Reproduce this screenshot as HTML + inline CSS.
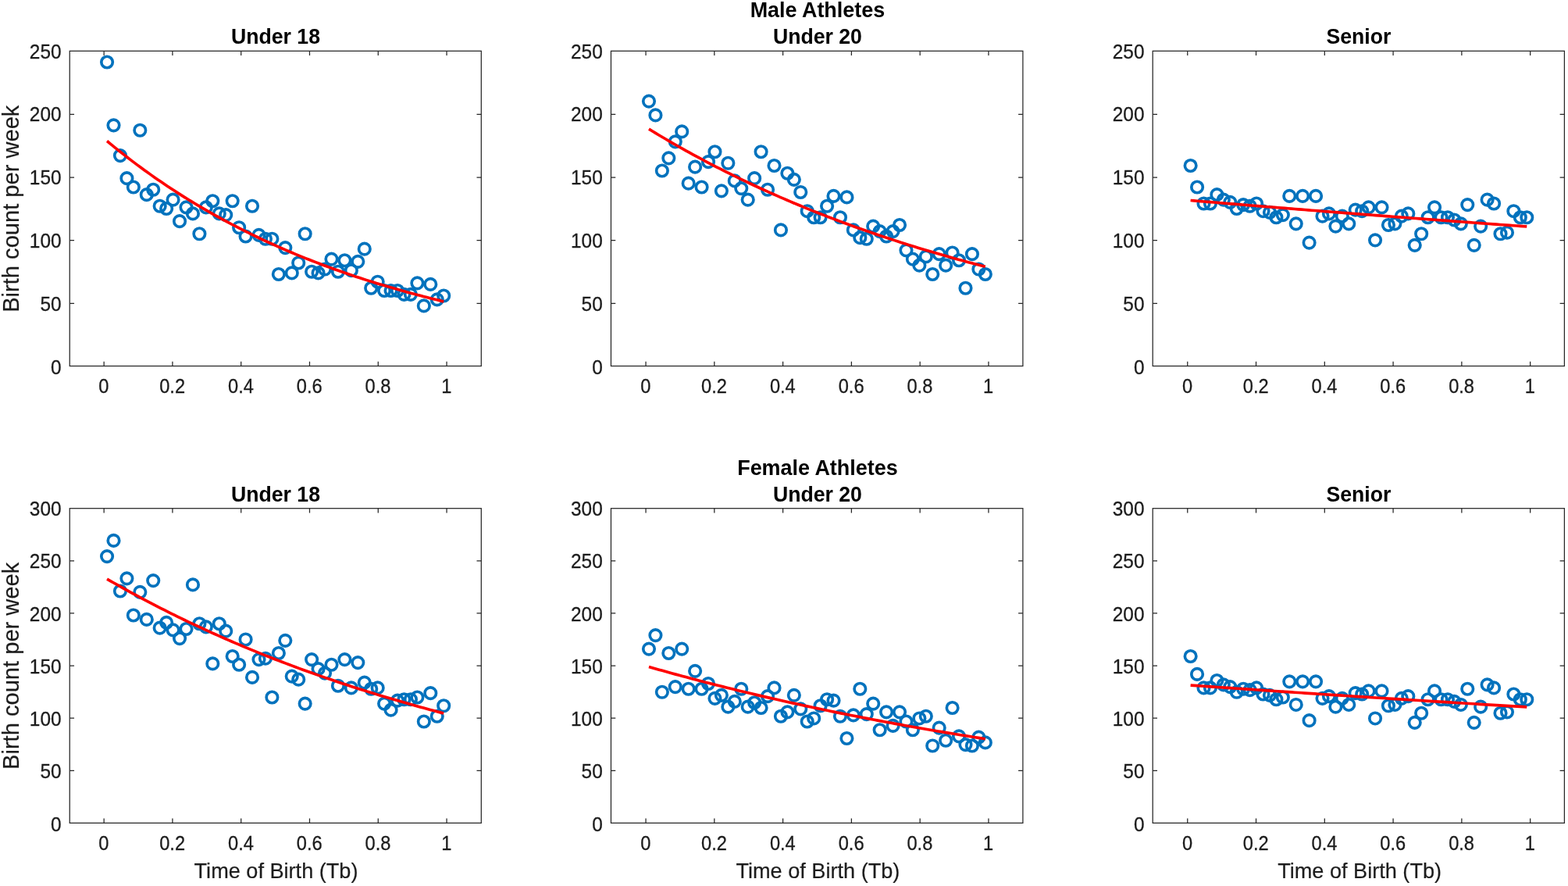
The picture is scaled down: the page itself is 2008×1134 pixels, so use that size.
<!DOCTYPE html>
<html lang="en"><head><meta charset="utf-8"><title>Birth count per week by Time of Birth</title>
<style>html,body{margin:0;padding:0;background:#fff}body{width:2008px;height:1134px;overflow:hidden}svg{display:block}text{font-family:"Liberation Sans",sans-serif}.tk{font-size:24.9px;fill:#1c1c1c;stroke:#1c1c1c;stroke-width:0.3px}.tt{font-size:27.2px;font-weight:bold;fill:#000}.lb{font-size:29.1px;fill:#1c1c1c;stroke:#1c1c1c;stroke-width:0.2px}.xl{font-size:27.4px;fill:#1c1c1c;stroke:#1c1c1c;stroke-width:0.2px}.ax{stroke:#262626;stroke-width:1.25;fill:none}.mk{fill:none;stroke:#0072BD;stroke-width:3.65}.ft{fill:none;stroke:#FF0000;stroke-width:3.65;stroke-linejoin:round}</style></head><body>
<svg width="2008" height="1134" viewBox="0 0 2008 1134">
<rect x="0" y="0" width="2008" height="1134" fill="#ffffff"/>
<g>
<circle class="mk" cx="137.05" cy="79.5" r="7.25"/>
<circle class="mk" cx="145.5" cy="160.3" r="7.25"/>
<circle class="mk" cx="153.95" cy="199.09" r="7.25"/>
<circle class="mk" cx="162.41" cy="228.18" r="7.25"/>
<circle class="mk" cx="170.86" cy="239.49" r="7.25"/>
<circle class="mk" cx="179.32" cy="166.77" r="7.25"/>
<circle class="mk" cx="187.77" cy="249.19" r="7.25"/>
<circle class="mk" cx="196.22" cy="242.73" r="7.25"/>
<circle class="mk" cx="204.68" cy="263.74" r="7.25"/>
<circle class="mk" cx="213.13" cy="266.97" r="7.25"/>
<circle class="mk" cx="221.59" cy="255.65" r="7.25"/>
<circle class="mk" cx="230.04" cy="283.13" r="7.25"/>
<circle class="mk" cx="238.49" cy="265.35" r="7.25"/>
<circle class="mk" cx="246.95" cy="273.43" r="7.25"/>
<circle class="mk" cx="255.4" cy="299.29" r="7.25"/>
<circle class="mk" cx="263.85" cy="265.35" r="7.25"/>
<circle class="mk" cx="272.31" cy="257.27" r="7.25"/>
<circle class="mk" cx="280.76" cy="273.43" r="7.25"/>
<circle class="mk" cx="289.22" cy="275.05" r="7.25"/>
<circle class="mk" cx="297.67" cy="257.27" r="7.25"/>
<circle class="mk" cx="306.12" cy="291.21" r="7.25"/>
<circle class="mk" cx="314.58" cy="302.52" r="7.25"/>
<circle class="mk" cx="323.03" cy="263.74" r="7.25"/>
<circle class="mk" cx="331.49" cy="300.91" r="7.25"/>
<circle class="mk" cx="339.94" cy="305.75" r="7.25"/>
<circle class="mk" cx="348.39" cy="305.75" r="7.25"/>
<circle class="mk" cx="356.85" cy="351" r="7.25"/>
<circle class="mk" cx="365.3" cy="317.07" r="7.25"/>
<circle class="mk" cx="373.75" cy="349.39" r="7.25"/>
<circle class="mk" cx="382.21" cy="336.46" r="7.25"/>
<circle class="mk" cx="390.66" cy="299.29" r="7.25"/>
<circle class="mk" cx="399.12" cy="347.77" r="7.25"/>
<circle class="mk" cx="407.57" cy="349.39" r="7.25"/>
<circle class="mk" cx="416.02" cy="344.54" r="7.25"/>
<circle class="mk" cx="424.48" cy="331.61" r="7.25"/>
<circle class="mk" cx="432.93" cy="347.77" r="7.25"/>
<circle class="mk" cx="441.39" cy="333.23" r="7.25"/>
<circle class="mk" cx="449.84" cy="346.16" r="7.25"/>
<circle class="mk" cx="458.29" cy="334.84" r="7.25"/>
<circle class="mk" cx="466.75" cy="318.68" r="7.25"/>
<circle class="mk" cx="475.2" cy="368.78" r="7.25"/>
<circle class="mk" cx="483.65" cy="360.7" r="7.25"/>
<circle class="mk" cx="492.11" cy="372.01" r="7.25"/>
<circle class="mk" cx="500.56" cy="372.01" r="7.25"/>
<circle class="mk" cx="509.02" cy="372.01" r="7.25"/>
<circle class="mk" cx="517.47" cy="376.86" r="7.25"/>
<circle class="mk" cx="525.92" cy="376.86" r="7.25"/>
<circle class="mk" cx="534.38" cy="362.32" r="7.25"/>
<circle class="mk" cx="542.83" cy="391.41" r="7.25"/>
<circle class="mk" cx="551.29" cy="363.93" r="7.25"/>
<circle class="mk" cx="559.74" cy="383.33" r="7.25"/>
<circle class="mk" cx="568.19" cy="378.48" r="7.25"/>
<polyline class="ft" points="137.05,180.51 141.36,184.08 145.67,187.6 149.98,191.09 154.29,194.52 158.6,197.92 162.92,201.27 167.23,204.59 171.54,207.86 175.85,211.09 180.16,214.28 184.47,217.43 188.78,220.54 193.1,223.62 197.41,226.65 201.72,229.65 206.03,232.61 210.34,235.54 214.65,238.42 218.96,241.28 223.28,244.09 227.59,246.88 231.9,249.62 236.21,252.34 240.52,255.02 244.83,257.67 249.14,260.28 253.46,262.86 257.77,265.41 262.08,267.93 266.39,270.42 270.7,272.88 275.01,275.3 279.33,277.7 283.64,280.07 287.95,282.4 292.26,284.71 296.57,286.99 300.88,289.24 305.19,291.47 309.51,293.66 313.82,295.83 318.13,297.97 322.44,300.09 326.75,302.18 331.06,304.24 335.37,306.28 339.69,308.29 344,310.28 348.31,312.25 352.62,314.19 356.93,316.1 361.24,317.99 365.55,319.86 369.87,321.71 374.18,323.53 378.49,325.33 382.8,327.1 387.11,328.86 391.42,330.59 395.73,332.31 400.05,334 404.36,335.67 408.67,337.32 412.98,338.95 417.29,340.55 421.6,342.14 425.91,343.71 430.23,345.26 434.54,346.79 438.85,348.3 443.16,349.8 447.47,351.27 451.78,352.73 456.1,354.17 460.41,355.59 464.72,356.99 469.03,358.38 473.34,359.74 477.65,361.1 481.96,362.43 486.28,363.75 490.59,365.05 494.9,366.34 499.21,367.61 503.52,368.86 507.83,370.1 512.14,371.32 516.46,372.53 520.77,373.73 525.08,374.9 529.39,376.07 533.7,377.22 538.01,378.35 542.32,379.47 546.64,380.58 550.95,381.68 555.26,382.76 559.57,383.82 563.88,384.88 568.19,385.92"/>
<rect class="ax" x="89.25" y="65.3" width="527.05" height="403.2"/>
<path class="ax" d="M133.15 468.5v-5.8M133.15 65.3v5.8M220.93 468.5v-5.8M220.93 65.3v5.8M308.71 468.5v-5.8M308.71 65.3v5.8M396.49 468.5v-5.8M396.49 65.3v5.8M484.27 468.5v-5.8M484.27 65.3v5.8M572.05 468.5v-5.8M572.05 65.3v5.8M89.25 388.36h5.8M616.3 388.36h-5.8M89.25 307.72h5.8M616.3 307.72h-5.8M89.25 227.08h5.8M616.3 227.08h-5.8M89.25 146.44h5.8M616.3 146.44h-5.8"/>
<text class="tk" text-anchor="middle" transform="translate(132.85 503.4) scale(0.95 1)">0</text>
<text class="tk" text-anchor="middle" transform="translate(220.63 503.4) scale(0.95 1)">0.2</text>
<text class="tk" text-anchor="middle" transform="translate(308.41 503.4) scale(0.95 1)">0.4</text>
<text class="tk" text-anchor="middle" transform="translate(396.19 503.4) scale(0.95 1)">0.6</text>
<text class="tk" text-anchor="middle" transform="translate(483.97 503.4) scale(0.95 1)">0.8</text>
<text class="tk" text-anchor="middle" transform="translate(571.75 503.4) scale(0.95 1)">1</text>
<text class="tk" text-anchor="end" transform="translate(78.55 478.68) scale(0.98 1)">0</text>
<text class="tk" text-anchor="end" transform="translate(78.55 397.88) scale(0.98 1)">50</text>
<text class="tk" text-anchor="end" transform="translate(78.55 317.07) scale(0.98 1)">100</text>
<text class="tk" text-anchor="end" transform="translate(78.55 236.26) scale(0.98 1)">150</text>
<text class="tk" text-anchor="end" transform="translate(78.55 155.46) scale(0.98 1)">200</text>
<text class="tk" text-anchor="end" transform="translate(78.55 74.65) scale(0.98 1)">250</text>
<text class="tt" text-anchor="middle" transform="translate(353 56.4) scale(0.98 1)">Under 18</text>
<text class="lb" text-anchor="middle" transform="translate(24.1 267.2) rotate(-90) scale(1 1)">Birth count per week</text>
</g>
<g>
<circle class="mk" cx="830.97" cy="129.6" r="7.25"/>
<circle class="mk" cx="839.42" cy="147.38" r="7.25"/>
<circle class="mk" cx="847.87" cy="218.48" r="7.25"/>
<circle class="mk" cx="856.32" cy="202.32" r="7.25"/>
<circle class="mk" cx="864.77" cy="181.31" r="7.25"/>
<circle class="mk" cx="873.21" cy="168.39" r="7.25"/>
<circle class="mk" cx="881.66" cy="234.65" r="7.25"/>
<circle class="mk" cx="890.11" cy="213.64" r="7.25"/>
<circle class="mk" cx="898.56" cy="239.49" r="7.25"/>
<circle class="mk" cx="907.01" cy="207.17" r="7.25"/>
<circle class="mk" cx="915.45" cy="194.24" r="7.25"/>
<circle class="mk" cx="923.9" cy="244.34" r="7.25"/>
<circle class="mk" cx="932.35" cy="208.79" r="7.25"/>
<circle class="mk" cx="940.8" cy="231.41" r="7.25"/>
<circle class="mk" cx="949.25" cy="241.11" r="7.25"/>
<circle class="mk" cx="957.7" cy="255.65" r="7.25"/>
<circle class="mk" cx="966.14" cy="228.18" r="7.25"/>
<circle class="mk" cx="974.59" cy="194.24" r="7.25"/>
<circle class="mk" cx="983.04" cy="242.73" r="7.25"/>
<circle class="mk" cx="991.49" cy="212.02" r="7.25"/>
<circle class="mk" cx="999.94" cy="294.44" r="7.25"/>
<circle class="mk" cx="1008.38" cy="221.72" r="7.25"/>
<circle class="mk" cx="1016.83" cy="229.8" r="7.25"/>
<circle class="mk" cx="1025.28" cy="245.96" r="7.25"/>
<circle class="mk" cx="1033.73" cy="270.2" r="7.25"/>
<circle class="mk" cx="1042.18" cy="278.28" r="7.25"/>
<circle class="mk" cx="1050.62" cy="278.28" r="7.25"/>
<circle class="mk" cx="1059.07" cy="263.74" r="7.25"/>
<circle class="mk" cx="1067.52" cy="250.81" r="7.25"/>
<circle class="mk" cx="1075.97" cy="278.28" r="7.25"/>
<circle class="mk" cx="1084.42" cy="252.42" r="7.25"/>
<circle class="mk" cx="1092.86" cy="294.44" r="7.25"/>
<circle class="mk" cx="1101.31" cy="304.14" r="7.25"/>
<circle class="mk" cx="1109.76" cy="305.75" r="7.25"/>
<circle class="mk" cx="1118.21" cy="289.59" r="7.25"/>
<circle class="mk" cx="1126.66" cy="296.06" r="7.25"/>
<circle class="mk" cx="1135.1" cy="302.52" r="7.25"/>
<circle class="mk" cx="1143.55" cy="296.06" r="7.25"/>
<circle class="mk" cx="1152" cy="287.98" r="7.25"/>
<circle class="mk" cx="1160.45" cy="320.3" r="7.25"/>
<circle class="mk" cx="1168.9" cy="331.61" r="7.25"/>
<circle class="mk" cx="1177.35" cy="339.69" r="7.25"/>
<circle class="mk" cx="1185.79" cy="328.38" r="7.25"/>
<circle class="mk" cx="1194.24" cy="351" r="7.25"/>
<circle class="mk" cx="1202.69" cy="325.15" r="7.25"/>
<circle class="mk" cx="1211.14" cy="339.69" r="7.25"/>
<circle class="mk" cx="1219.59" cy="323.53" r="7.25"/>
<circle class="mk" cx="1228.03" cy="333.23" r="7.25"/>
<circle class="mk" cx="1236.48" cy="368.78" r="7.25"/>
<circle class="mk" cx="1244.93" cy="325.15" r="7.25"/>
<circle class="mk" cx="1253.38" cy="344.54" r="7.25"/>
<circle class="mk" cx="1261.83" cy="351" r="7.25"/>
<polyline class="ft" points="830.97,165.16 835.28,167.78 839.59,170.38 843.9,172.96 848.21,175.52 852.52,178.05 856.83,180.56 861.13,183.05 865.44,185.52 869.75,187.97 874.06,190.39 878.37,192.8 882.68,195.18 886.98,197.55 891.29,199.89 895.6,202.21 899.91,204.51 904.22,206.8 908.53,209.06 912.84,211.3 917.14,213.53 921.45,215.73 925.76,217.92 930.07,220.09 934.38,222.24 938.69,224.37 943,226.48 947.3,228.57 951.61,230.65 955.92,232.7 960.23,234.74 964.54,236.77 968.85,238.77 973.16,240.76 977.46,242.73 981.77,244.68 986.08,246.62 990.39,248.54 994.7,250.44 999.01,252.33 1003.31,254.2 1007.62,256.05 1011.93,257.89 1016.24,259.71 1020.55,261.52 1024.86,263.31 1029.17,265.08 1033.47,266.84 1037.78,268.59 1042.09,270.32 1046.4,272.03 1050.71,273.73 1055.02,275.42 1059.33,277.09 1063.63,278.75 1067.94,280.39 1072.25,282.02 1076.56,283.63 1080.87,285.23 1085.18,286.82 1089.49,288.39 1093.79,289.95 1098.1,291.49 1102.41,293.03 1106.72,294.54 1111.03,296.05 1115.34,297.54 1119.64,299.02 1123.95,300.49 1128.26,301.95 1132.57,303.39 1136.88,304.82 1141.19,306.23 1145.5,307.64 1149.8,309.03 1154.11,310.41 1158.42,311.78 1162.73,313.14 1167.04,314.48 1171.35,315.82 1175.66,317.14 1179.96,318.45 1184.27,319.75 1188.58,321.04 1192.89,322.31 1197.2,323.58 1201.51,324.84 1205.82,326.08 1210.12,327.31 1214.43,328.54 1218.74,329.75 1223.05,330.95 1227.36,332.14 1231.67,333.32 1235.97,334.5 1240.28,335.66 1244.59,336.81 1248.9,337.95 1253.21,339.08 1257.52,340.2 1261.83,341.31"/>
<rect class="ax" x="782.45" y="65.3" width="527.45" height="403.2"/>
<path class="ax" d="M827.05 468.5v-5.8M827.05 65.3v5.8M914.83 468.5v-5.8M914.83 65.3v5.8M1002.61 468.5v-5.8M1002.61 65.3v5.8M1090.39 468.5v-5.8M1090.39 65.3v5.8M1178.17 468.5v-5.8M1178.17 65.3v5.8M1265.95 468.5v-5.8M1265.95 65.3v5.8M782.45 388.36h5.8M1309.9 388.36h-5.8M782.45 307.72h5.8M1309.9 307.72h-5.8M782.45 227.08h5.8M1309.9 227.08h-5.8M782.45 146.44h5.8M1309.9 146.44h-5.8"/>
<text class="tk" text-anchor="middle" transform="translate(826.75 503.4) scale(0.95 1)">0</text>
<text class="tk" text-anchor="middle" transform="translate(914.53 503.4) scale(0.95 1)">0.2</text>
<text class="tk" text-anchor="middle" transform="translate(1002.31 503.4) scale(0.95 1)">0.4</text>
<text class="tk" text-anchor="middle" transform="translate(1090.09 503.4) scale(0.95 1)">0.6</text>
<text class="tk" text-anchor="middle" transform="translate(1177.87 503.4) scale(0.95 1)">0.8</text>
<text class="tk" text-anchor="middle" transform="translate(1265.65 503.4) scale(0.95 1)">1</text>
<text class="tk" text-anchor="end" transform="translate(771.75 478.68) scale(0.98 1)">0</text>
<text class="tk" text-anchor="end" transform="translate(771.75 397.88) scale(0.98 1)">50</text>
<text class="tk" text-anchor="end" transform="translate(771.75 317.07) scale(0.98 1)">100</text>
<text class="tk" text-anchor="end" transform="translate(771.75 236.26) scale(0.98 1)">150</text>
<text class="tk" text-anchor="end" transform="translate(771.75 155.46) scale(0.98 1)">200</text>
<text class="tk" text-anchor="end" transform="translate(771.75 74.65) scale(0.98 1)">250</text>
<text class="tt" text-anchor="middle" transform="translate(1046.9 56.4) scale(0.98 1)">Under 20</text>
<text class="tt" text-anchor="middle" transform="translate(1046.9 22.4) scale(0.99 1)">Male Athletes</text>
</g>
<g>
<circle class="mk" cx="1524.62" cy="212.02" r="7.25"/>
<circle class="mk" cx="1533.07" cy="239.49" r="7.25"/>
<circle class="mk" cx="1541.51" cy="260.5" r="7.25"/>
<circle class="mk" cx="1549.95" cy="260.5" r="7.25"/>
<circle class="mk" cx="1558.4" cy="249.19" r="7.25"/>
<circle class="mk" cx="1566.84" cy="255.65" r="7.25"/>
<circle class="mk" cx="1575.29" cy="258.89" r="7.25"/>
<circle class="mk" cx="1583.73" cy="266.97" r="7.25"/>
<circle class="mk" cx="1592.18" cy="262.12" r="7.25"/>
<circle class="mk" cx="1600.62" cy="263.74" r="7.25"/>
<circle class="mk" cx="1609.06" cy="260.5" r="7.25"/>
<circle class="mk" cx="1617.51" cy="270.2" r="7.25"/>
<circle class="mk" cx="1625.95" cy="271.82" r="7.25"/>
<circle class="mk" cx="1634.4" cy="278.28" r="7.25"/>
<circle class="mk" cx="1642.84" cy="275.05" r="7.25"/>
<circle class="mk" cx="1651.29" cy="250.81" r="7.25"/>
<circle class="mk" cx="1659.73" cy="286.36" r="7.25"/>
<circle class="mk" cx="1668.17" cy="250.81" r="7.25"/>
<circle class="mk" cx="1676.62" cy="310.6" r="7.25"/>
<circle class="mk" cx="1685.06" cy="250.81" r="7.25"/>
<circle class="mk" cx="1693.51" cy="276.66" r="7.25"/>
<circle class="mk" cx="1701.95" cy="273.43" r="7.25"/>
<circle class="mk" cx="1710.4" cy="289.59" r="7.25"/>
<circle class="mk" cx="1718.84" cy="276.66" r="7.25"/>
<circle class="mk" cx="1727.28" cy="286.36" r="7.25"/>
<circle class="mk" cx="1735.73" cy="268.58" r="7.25"/>
<circle class="mk" cx="1744.17" cy="270.2" r="7.25"/>
<circle class="mk" cx="1752.62" cy="265.35" r="7.25"/>
<circle class="mk" cx="1761.06" cy="307.37" r="7.25"/>
<circle class="mk" cx="1769.5" cy="265.35" r="7.25"/>
<circle class="mk" cx="1777.95" cy="287.98" r="7.25"/>
<circle class="mk" cx="1786.39" cy="286.36" r="7.25"/>
<circle class="mk" cx="1794.84" cy="276.66" r="7.25"/>
<circle class="mk" cx="1803.28" cy="273.43" r="7.25"/>
<circle class="mk" cx="1811.73" cy="313.83" r="7.25"/>
<circle class="mk" cx="1820.17" cy="299.29" r="7.25"/>
<circle class="mk" cx="1828.61" cy="278.28" r="7.25"/>
<circle class="mk" cx="1837.06" cy="265.35" r="7.25"/>
<circle class="mk" cx="1845.5" cy="278.28" r="7.25"/>
<circle class="mk" cx="1853.95" cy="278.28" r="7.25"/>
<circle class="mk" cx="1862.39" cy="281.51" r="7.25"/>
<circle class="mk" cx="1870.84" cy="286.36" r="7.25"/>
<circle class="mk" cx="1879.28" cy="262.12" r="7.25"/>
<circle class="mk" cx="1887.72" cy="313.83" r="7.25"/>
<circle class="mk" cx="1896.17" cy="289.59" r="7.25"/>
<circle class="mk" cx="1904.61" cy="255.65" r="7.25"/>
<circle class="mk" cx="1913.06" cy="260.5" r="7.25"/>
<circle class="mk" cx="1921.5" cy="299.29" r="7.25"/>
<circle class="mk" cx="1929.95" cy="297.67" r="7.25"/>
<circle class="mk" cx="1938.39" cy="270.2" r="7.25"/>
<circle class="mk" cx="1946.83" cy="278.28" r="7.25"/>
<circle class="mk" cx="1955.28" cy="278.28" r="7.25"/>
<polyline class="ft" points="1524.62,256.5 1528.93,256.86 1533.24,257.22 1537.54,257.59 1541.85,257.95 1546.15,258.31 1550.46,258.67 1554.77,259.03 1559.07,259.39 1563.38,259.75 1567.69,260.1 1571.99,260.46 1576.3,260.82 1580.61,261.17 1584.91,261.53 1589.22,261.89 1593.53,262.24 1597.83,262.59 1602.14,262.95 1606.45,263.3 1610.75,263.65 1615.06,264 1619.37,264.35 1623.67,264.7 1627.98,265.05 1632.29,265.4 1636.59,265.75 1640.9,266.1 1645.21,266.44 1649.51,266.79 1653.82,267.14 1658.13,267.48 1662.43,267.83 1666.74,268.17 1671.05,268.51 1675.35,268.86 1679.66,269.2 1683.96,269.54 1688.27,269.88 1692.58,270.22 1696.88,270.56 1701.19,270.9 1705.5,271.24 1709.8,271.58 1714.11,271.92 1718.42,272.26 1722.72,272.59 1727.03,272.93 1731.34,273.26 1735.64,273.6 1739.95,273.93 1744.26,274.27 1748.56,274.6 1752.87,274.93 1757.18,275.26 1761.48,275.6 1765.79,275.93 1770.1,276.26 1774.4,276.59 1778.71,276.92 1783.02,277.24 1787.32,277.57 1791.63,277.9 1795.94,278.23 1800.24,278.55 1804.55,278.88 1808.85,279.2 1813.16,279.53 1817.47,279.85 1821.77,280.18 1826.08,280.5 1830.39,280.82 1834.69,281.14 1839,281.47 1843.31,281.79 1847.61,282.11 1851.92,282.43 1856.23,282.75 1860.53,283.06 1864.84,283.38 1869.15,283.7 1873.45,284.02 1877.76,284.33 1882.07,284.65 1886.37,284.96 1890.68,285.28 1894.99,285.59 1899.29,285.91 1903.6,286.22 1907.91,286.53 1912.21,286.85 1916.52,287.16 1920.83,287.47 1925.13,287.78 1929.44,288.09 1933.75,288.4 1938.05,288.71 1942.36,289.02 1946.66,289.32 1950.97,289.63 1955.28,289.94"/>
<rect class="ax" x="1476.2" y="65.3" width="527.2" height="403.2"/>
<path class="ax" d="M1520.75 468.5v-5.8M1520.75 65.3v5.8M1608.53 468.5v-5.8M1608.53 65.3v5.8M1696.31 468.5v-5.8M1696.31 65.3v5.8M1784.09 468.5v-5.8M1784.09 65.3v5.8M1871.87 468.5v-5.8M1871.87 65.3v5.8M1959.65 468.5v-5.8M1959.65 65.3v5.8M1476.2 388.36h5.8M2003.4 388.36h-5.8M1476.2 307.72h5.8M2003.4 307.72h-5.8M1476.2 227.08h5.8M2003.4 227.08h-5.8M1476.2 146.44h5.8M2003.4 146.44h-5.8"/>
<text class="tk" text-anchor="middle" transform="translate(1520.45 503.4) scale(0.95 1)">0</text>
<text class="tk" text-anchor="middle" transform="translate(1608.23 503.4) scale(0.95 1)">0.2</text>
<text class="tk" text-anchor="middle" transform="translate(1696.01 503.4) scale(0.95 1)">0.4</text>
<text class="tk" text-anchor="middle" transform="translate(1783.79 503.4) scale(0.95 1)">0.6</text>
<text class="tk" text-anchor="middle" transform="translate(1871.57 503.4) scale(0.95 1)">0.8</text>
<text class="tk" text-anchor="middle" transform="translate(1959.35 503.4) scale(0.95 1)">1</text>
<text class="tk" text-anchor="end" transform="translate(1465.5 478.68) scale(0.98 1)">0</text>
<text class="tk" text-anchor="end" transform="translate(1465.5 397.88) scale(0.98 1)">50</text>
<text class="tk" text-anchor="end" transform="translate(1465.5 317.07) scale(0.98 1)">100</text>
<text class="tk" text-anchor="end" transform="translate(1465.5 236.26) scale(0.98 1)">150</text>
<text class="tk" text-anchor="end" transform="translate(1465.5 155.46) scale(0.98 1)">200</text>
<text class="tk" text-anchor="end" transform="translate(1465.5 74.65) scale(0.98 1)">250</text>
<text class="tt" text-anchor="middle" transform="translate(1739.85 56.4) scale(0.98 1)">Senior</text>
</g>
<g>
<circle class="mk" cx="137.05" cy="712.09" r="7.25"/>
<circle class="mk" cx="145.5" cy="691.89" r="7.25"/>
<circle class="mk" cx="153.95" cy="756.52" r="7.25"/>
<circle class="mk" cx="162.41" cy="740.37" r="7.25"/>
<circle class="mk" cx="170.86" cy="787.49" r="7.25"/>
<circle class="mk" cx="179.32" cy="757.87" r="7.25"/>
<circle class="mk" cx="187.77" cy="792.88" r="7.25"/>
<circle class="mk" cx="196.22" cy="743.06" r="7.25"/>
<circle class="mk" cx="204.68" cy="803.65" r="7.25"/>
<circle class="mk" cx="213.13" cy="796.92" r="7.25"/>
<circle class="mk" cx="221.59" cy="806.34" r="7.25"/>
<circle class="mk" cx="230.04" cy="817.12" r="7.25"/>
<circle class="mk" cx="238.49" cy="805" r="7.25"/>
<circle class="mk" cx="246.95" cy="748.44" r="7.25"/>
<circle class="mk" cx="255.4" cy="798.26" r="7.25"/>
<circle class="mk" cx="263.85" cy="802.3" r="7.25"/>
<circle class="mk" cx="272.31" cy="849.43" r="7.25"/>
<circle class="mk" cx="280.76" cy="798.26" r="7.25"/>
<circle class="mk" cx="289.22" cy="807.69" r="7.25"/>
<circle class="mk" cx="297.67" cy="840.01" r="7.25"/>
<circle class="mk" cx="306.12" cy="850.78" r="7.25"/>
<circle class="mk" cx="314.58" cy="818.46" r="7.25"/>
<circle class="mk" cx="323.03" cy="866.94" r="7.25"/>
<circle class="mk" cx="331.49" cy="844.05" r="7.25"/>
<circle class="mk" cx="339.94" cy="842.7" r="7.25"/>
<circle class="mk" cx="348.39" cy="892.52" r="7.25"/>
<circle class="mk" cx="356.85" cy="835.97" r="7.25"/>
<circle class="mk" cx="365.3" cy="819.81" r="7.25"/>
<circle class="mk" cx="373.75" cy="865.59" r="7.25"/>
<circle class="mk" cx="382.21" cy="869.63" r="7.25"/>
<circle class="mk" cx="390.66" cy="900.6" r="7.25"/>
<circle class="mk" cx="399.12" cy="844.05" r="7.25"/>
<circle class="mk" cx="407.57" cy="856.16" r="7.25"/>
<circle class="mk" cx="416.02" cy="861.55" r="7.25"/>
<circle class="mk" cx="424.48" cy="850.78" r="7.25"/>
<circle class="mk" cx="432.93" cy="877.71" r="7.25"/>
<circle class="mk" cx="441.39" cy="844.05" r="7.25"/>
<circle class="mk" cx="449.84" cy="880.4" r="7.25"/>
<circle class="mk" cx="458.29" cy="848.09" r="7.25"/>
<circle class="mk" cx="466.75" cy="873.67" r="7.25"/>
<circle class="mk" cx="475.2" cy="881.75" r="7.25"/>
<circle class="mk" cx="483.65" cy="880.4" r="7.25"/>
<circle class="mk" cx="492.11" cy="900.6" r="7.25"/>
<circle class="mk" cx="500.56" cy="908.68" r="7.25"/>
<circle class="mk" cx="509.02" cy="896.56" r="7.25"/>
<circle class="mk" cx="517.47" cy="895.21" r="7.25"/>
<circle class="mk" cx="525.92" cy="895.21" r="7.25"/>
<circle class="mk" cx="534.38" cy="892.52" r="7.25"/>
<circle class="mk" cx="542.83" cy="923.49" r="7.25"/>
<circle class="mk" cx="551.29" cy="887.13" r="7.25"/>
<circle class="mk" cx="559.74" cy="916.76" r="7.25"/>
<circle class="mk" cx="568.19" cy="903.29" r="7.25"/>
<polyline class="ft" points="137.05,741.07 141.36,743.55 145.67,746.02 149.98,748.46 154.29,750.89 158.6,753.3 162.92,755.68 167.23,758.05 171.54,760.4 175.85,762.73 180.16,765.05 184.47,767.34 188.78,769.62 193.1,771.87 197.41,774.12 201.72,776.34 206.03,778.54 210.34,780.73 214.65,782.9 218.96,785.05 223.28,787.19 227.59,789.31 231.9,791.41 236.21,793.49 240.52,795.56 244.83,797.61 249.14,799.65 253.46,801.67 257.77,803.67 262.08,805.66 266.39,807.63 270.7,809.59 275.01,811.53 279.33,813.45 283.64,815.36 287.95,817.26 292.26,819.14 296.57,821 300.88,822.85 305.19,824.69 309.51,826.51 313.82,828.32 318.13,830.11 322.44,831.89 326.75,833.65 331.06,835.4 335.37,837.14 339.69,838.86 344,840.57 348.31,842.26 352.62,843.94 356.93,845.61 361.24,847.26 365.55,848.91 369.87,850.53 374.18,852.15 378.49,853.75 382.8,855.34 387.11,856.92 391.42,858.49 395.73,860.04 400.05,861.58 404.36,863.11 408.67,864.62 412.98,866.13 417.29,867.62 421.6,869.1 425.91,870.57 430.23,872.02 434.54,873.47 438.85,874.9 443.16,876.33 447.47,877.74 451.78,879.14 456.1,880.52 460.41,881.9 464.72,883.27 469.03,884.63 473.34,885.97 477.65,887.3 481.96,888.63 486.28,889.94 490.59,891.24 494.9,892.54 499.21,893.82 503.52,895.09 507.83,896.35 512.14,897.61 516.46,898.85 520.77,900.08 525.08,901.3 529.39,902.52 533.7,903.72 538.01,904.91 542.32,906.1 546.64,907.27 550.95,908.44 555.26,909.59 559.57,910.74 563.88,911.88 568.19,913.01"/>
<rect class="ax" x="89.25" y="650.7" width="527.05" height="402.7"/>
<path class="ax" d="M133.15 1053.4v-5.8M133.15 650.7v5.8M220.93 1053.4v-5.8M220.93 650.7v5.8M308.71 1053.4v-5.8M308.71 650.7v5.8M396.49 1053.4v-5.8M396.49 650.7v5.8M484.27 1053.4v-5.8M484.27 650.7v5.8M572.05 1053.4v-5.8M572.05 650.7v5.8M89.25 986.33h5.8M616.3 986.33h-5.8M89.25 919.22h5.8M616.3 919.22h-5.8M89.25 852.1h5.8M616.3 852.1h-5.8M89.25 784.98h5.8M616.3 784.98h-5.8M89.25 717.87h5.8M616.3 717.87h-5.8"/>
<text class="tk" text-anchor="middle" transform="translate(132.85 1088.3) scale(0.95 1)">0</text>
<text class="tk" text-anchor="middle" transform="translate(220.63 1088.3) scale(0.95 1)">0.2</text>
<text class="tk" text-anchor="middle" transform="translate(308.41 1088.3) scale(0.95 1)">0.4</text>
<text class="tk" text-anchor="middle" transform="translate(396.19 1088.3) scale(0.95 1)">0.6</text>
<text class="tk" text-anchor="middle" transform="translate(483.97 1088.3) scale(0.95 1)">0.8</text>
<text class="tk" text-anchor="middle" transform="translate(571.75 1088.3) scale(0.95 1)">1</text>
<text class="tk" text-anchor="end" transform="translate(78.55 1063.8) scale(0.98 1)">0</text>
<text class="tk" text-anchor="end" transform="translate(78.55 996.47) scale(0.98 1)">50</text>
<text class="tk" text-anchor="end" transform="translate(78.55 929.15) scale(0.98 1)">100</text>
<text class="tk" text-anchor="end" transform="translate(78.55 861.82) scale(0.98 1)">150</text>
<text class="tk" text-anchor="end" transform="translate(78.55 794.5) scale(0.98 1)">200</text>
<text class="tk" text-anchor="end" transform="translate(78.55 727.17) scale(0.98 1)">250</text>
<text class="tk" text-anchor="end" transform="translate(78.55 659.85) scale(0.98 1)">300</text>
<text class="tt" text-anchor="middle" transform="translate(353 641.8) scale(0.98 1)">Under 18</text>
<text class="lb" text-anchor="middle" transform="translate(24.1 852.35) rotate(-90) scale(1 1)">Birth count per week</text>
<text class="xl" text-anchor="middle" transform="translate(353.5 1123.9) scale(0.99 1)">Time of Birth (Tb)</text>
</g>
<g>
<circle class="mk" cx="830.97" cy="830.58" r="7.25"/>
<circle class="mk" cx="839.42" cy="813.08" r="7.25"/>
<circle class="mk" cx="847.87" cy="885.79" r="7.25"/>
<circle class="mk" cx="856.32" cy="835.97" r="7.25"/>
<circle class="mk" cx="864.77" cy="879.05" r="7.25"/>
<circle class="mk" cx="873.21" cy="830.58" r="7.25"/>
<circle class="mk" cx="881.66" cy="881.75" r="7.25"/>
<circle class="mk" cx="890.11" cy="858.86" r="7.25"/>
<circle class="mk" cx="898.56" cy="881.75" r="7.25"/>
<circle class="mk" cx="907.01" cy="875.02" r="7.25"/>
<circle class="mk" cx="915.45" cy="893.87" r="7.25"/>
<circle class="mk" cx="923.9" cy="889.83" r="7.25"/>
<circle class="mk" cx="932.35" cy="904.64" r="7.25"/>
<circle class="mk" cx="940.8" cy="897.91" r="7.25"/>
<circle class="mk" cx="949.25" cy="881.75" r="7.25"/>
<circle class="mk" cx="957.7" cy="904.64" r="7.25"/>
<circle class="mk" cx="966.14" cy="899.25" r="7.25"/>
<circle class="mk" cx="974.59" cy="905.98" r="7.25"/>
<circle class="mk" cx="983.04" cy="891.17" r="7.25"/>
<circle class="mk" cx="991.49" cy="880.4" r="7.25"/>
<circle class="mk" cx="999.94" cy="916.76" r="7.25"/>
<circle class="mk" cx="1008.38" cy="911.37" r="7.25"/>
<circle class="mk" cx="1016.83" cy="889.83" r="7.25"/>
<circle class="mk" cx="1025.28" cy="907.33" r="7.25"/>
<circle class="mk" cx="1033.73" cy="923.49" r="7.25"/>
<circle class="mk" cx="1042.18" cy="919.45" r="7.25"/>
<circle class="mk" cx="1050.62" cy="903.29" r="7.25"/>
<circle class="mk" cx="1059.07" cy="895.21" r="7.25"/>
<circle class="mk" cx="1067.52" cy="896.56" r="7.25"/>
<circle class="mk" cx="1075.97" cy="916.76" r="7.25"/>
<circle class="mk" cx="1084.42" cy="945.03" r="7.25"/>
<circle class="mk" cx="1092.86" cy="915.41" r="7.25"/>
<circle class="mk" cx="1101.31" cy="881.75" r="7.25"/>
<circle class="mk" cx="1109.76" cy="914.06" r="7.25"/>
<circle class="mk" cx="1118.21" cy="900.6" r="7.25"/>
<circle class="mk" cx="1126.66" cy="934.26" r="7.25"/>
<circle class="mk" cx="1135.1" cy="911.37" r="7.25"/>
<circle class="mk" cx="1143.55" cy="928.88" r="7.25"/>
<circle class="mk" cx="1152" cy="911.37" r="7.25"/>
<circle class="mk" cx="1160.45" cy="923.49" r="7.25"/>
<circle class="mk" cx="1168.9" cy="934.26" r="7.25"/>
<circle class="mk" cx="1177.35" cy="919.45" r="7.25"/>
<circle class="mk" cx="1185.79" cy="916.76" r="7.25"/>
<circle class="mk" cx="1194.24" cy="954.46" r="7.25"/>
<circle class="mk" cx="1202.69" cy="931.57" r="7.25"/>
<circle class="mk" cx="1211.14" cy="947.73" r="7.25"/>
<circle class="mk" cx="1219.59" cy="905.98" r="7.25"/>
<circle class="mk" cx="1228.03" cy="942.34" r="7.25"/>
<circle class="mk" cx="1236.48" cy="953.11" r="7.25"/>
<circle class="mk" cx="1244.93" cy="954.46" r="7.25"/>
<circle class="mk" cx="1253.38" cy="943.69" r="7.25"/>
<circle class="mk" cx="1261.83" cy="950.42" r="7.25"/>
<polyline class="ft" points="830.97,853.47 835.28,854.71 839.59,855.93 843.9,857.15 848.21,858.35 852.52,859.56 856.83,860.75 861.13,861.94 865.44,863.12 869.75,864.29 874.06,865.45 878.37,866.61 882.68,867.76 886.98,868.9 891.29,870.04 895.6,871.17 899.91,872.29 904.22,873.41 908.53,874.52 912.84,875.62 917.14,876.72 921.45,877.8 925.76,878.89 930.07,879.96 934.38,881.03 938.69,882.09 943,883.15 947.3,884.2 951.61,885.24 955.92,886.28 960.23,887.31 964.54,888.33 968.85,889.35 973.16,890.36 977.46,891.36 981.77,892.36 986.08,893.36 990.39,894.34 994.7,895.32 999.01,896.3 1003.31,897.27 1007.62,898.23 1011.93,899.18 1016.24,900.14 1020.55,901.08 1024.86,902.02 1029.17,902.95 1033.47,903.88 1037.78,904.8 1042.09,905.72 1046.4,906.63 1050.71,907.53 1055.02,908.43 1059.33,909.33 1063.63,910.22 1067.94,911.1 1072.25,911.98 1076.56,912.85 1080.87,913.72 1085.18,914.58 1089.49,915.43 1093.79,916.29 1098.1,917.13 1102.41,917.97 1106.72,918.81 1111.03,919.64 1115.34,920.46 1119.64,921.28 1123.95,922.1 1128.26,922.91 1132.57,923.71 1136.88,924.51 1141.19,925.31 1145.5,926.1 1149.8,926.89 1154.11,927.67 1158.42,928.44 1162.73,929.21 1167.04,929.98 1171.35,930.74 1175.66,931.5 1179.96,932.25 1184.27,933 1188.58,933.74 1192.89,934.48 1197.2,935.21 1201.51,935.94 1205.82,936.67 1210.12,937.39 1214.43,938.11 1218.74,938.82 1223.05,939.53 1227.36,940.23 1231.67,940.93 1235.97,941.62 1240.28,942.31 1244.59,943 1248.9,943.68 1253.21,944.36 1257.52,945.03 1261.83,945.7"/>
<rect class="ax" x="782.45" y="650.7" width="527.45" height="402.7"/>
<path class="ax" d="M827.05 1053.4v-5.8M827.05 650.7v5.8M914.83 1053.4v-5.8M914.83 650.7v5.8M1002.61 1053.4v-5.8M1002.61 650.7v5.8M1090.39 1053.4v-5.8M1090.39 650.7v5.8M1178.17 1053.4v-5.8M1178.17 650.7v5.8M1265.95 1053.4v-5.8M1265.95 650.7v5.8M782.45 986.33h5.8M1309.9 986.33h-5.8M782.45 919.22h5.8M1309.9 919.22h-5.8M782.45 852.1h5.8M1309.9 852.1h-5.8M782.45 784.98h5.8M1309.9 784.98h-5.8M782.45 717.87h5.8M1309.9 717.87h-5.8"/>
<text class="tk" text-anchor="middle" transform="translate(826.75 1088.3) scale(0.95 1)">0</text>
<text class="tk" text-anchor="middle" transform="translate(914.53 1088.3) scale(0.95 1)">0.2</text>
<text class="tk" text-anchor="middle" transform="translate(1002.31 1088.3) scale(0.95 1)">0.4</text>
<text class="tk" text-anchor="middle" transform="translate(1090.09 1088.3) scale(0.95 1)">0.6</text>
<text class="tk" text-anchor="middle" transform="translate(1177.87 1088.3) scale(0.95 1)">0.8</text>
<text class="tk" text-anchor="middle" transform="translate(1265.65 1088.3) scale(0.95 1)">1</text>
<text class="tk" text-anchor="end" transform="translate(771.75 1063.8) scale(0.98 1)">0</text>
<text class="tk" text-anchor="end" transform="translate(771.75 996.47) scale(0.98 1)">50</text>
<text class="tk" text-anchor="end" transform="translate(771.75 929.15) scale(0.98 1)">100</text>
<text class="tk" text-anchor="end" transform="translate(771.75 861.82) scale(0.98 1)">150</text>
<text class="tk" text-anchor="end" transform="translate(771.75 794.5) scale(0.98 1)">200</text>
<text class="tk" text-anchor="end" transform="translate(771.75 727.17) scale(0.98 1)">250</text>
<text class="tk" text-anchor="end" transform="translate(771.75 659.85) scale(0.98 1)">300</text>
<text class="tt" text-anchor="middle" transform="translate(1046.9 641.8) scale(0.98 1)">Under 20</text>
<text class="tt" text-anchor="middle" transform="translate(1046.9 607.8) scale(0.99 1)">Female Athletes</text>
<text class="xl" text-anchor="middle" transform="translate(1047.4 1123.9) scale(0.99 1)">Time of Birth (Tb)</text>
</g>
<g>
<circle class="mk" cx="1524.62" cy="840.01" r="7.25"/>
<circle class="mk" cx="1533.07" cy="862.9" r="7.25"/>
<circle class="mk" cx="1541.51" cy="880.4" r="7.25"/>
<circle class="mk" cx="1549.95" cy="880.4" r="7.25"/>
<circle class="mk" cx="1558.4" cy="870.98" r="7.25"/>
<circle class="mk" cx="1566.84" cy="876.36" r="7.25"/>
<circle class="mk" cx="1575.29" cy="879.05" r="7.25"/>
<circle class="mk" cx="1583.73" cy="885.79" r="7.25"/>
<circle class="mk" cx="1592.18" cy="881.75" r="7.25"/>
<circle class="mk" cx="1600.62" cy="883.09" r="7.25"/>
<circle class="mk" cx="1609.06" cy="880.4" r="7.25"/>
<circle class="mk" cx="1617.51" cy="888.48" r="7.25"/>
<circle class="mk" cx="1625.95" cy="889.83" r="7.25"/>
<circle class="mk" cx="1634.4" cy="895.21" r="7.25"/>
<circle class="mk" cx="1642.84" cy="892.52" r="7.25"/>
<circle class="mk" cx="1651.29" cy="872.32" r="7.25"/>
<circle class="mk" cx="1659.73" cy="901.95" r="7.25"/>
<circle class="mk" cx="1668.17" cy="872.32" r="7.25"/>
<circle class="mk" cx="1676.62" cy="922.14" r="7.25"/>
<circle class="mk" cx="1685.06" cy="872.32" r="7.25"/>
<circle class="mk" cx="1693.51" cy="893.87" r="7.25"/>
<circle class="mk" cx="1701.95" cy="891.17" r="7.25"/>
<circle class="mk" cx="1710.4" cy="904.64" r="7.25"/>
<circle class="mk" cx="1718.84" cy="893.87" r="7.25"/>
<circle class="mk" cx="1727.28" cy="901.95" r="7.25"/>
<circle class="mk" cx="1735.73" cy="887.13" r="7.25"/>
<circle class="mk" cx="1744.17" cy="888.48" r="7.25"/>
<circle class="mk" cx="1752.62" cy="884.44" r="7.25"/>
<circle class="mk" cx="1761.06" cy="919.45" r="7.25"/>
<circle class="mk" cx="1769.5" cy="884.44" r="7.25"/>
<circle class="mk" cx="1777.95" cy="903.29" r="7.25"/>
<circle class="mk" cx="1786.39" cy="901.95" r="7.25"/>
<circle class="mk" cx="1794.84" cy="893.87" r="7.25"/>
<circle class="mk" cx="1803.28" cy="891.17" r="7.25"/>
<circle class="mk" cx="1811.73" cy="924.84" r="7.25"/>
<circle class="mk" cx="1820.17" cy="912.72" r="7.25"/>
<circle class="mk" cx="1828.61" cy="895.21" r="7.25"/>
<circle class="mk" cx="1837.06" cy="884.44" r="7.25"/>
<circle class="mk" cx="1845.5" cy="895.21" r="7.25"/>
<circle class="mk" cx="1853.95" cy="895.21" r="7.25"/>
<circle class="mk" cx="1862.39" cy="897.91" r="7.25"/>
<circle class="mk" cx="1870.84" cy="901.95" r="7.25"/>
<circle class="mk" cx="1879.28" cy="881.75" r="7.25"/>
<circle class="mk" cx="1887.72" cy="924.84" r="7.25"/>
<circle class="mk" cx="1896.17" cy="904.64" r="7.25"/>
<circle class="mk" cx="1904.61" cy="876.36" r="7.25"/>
<circle class="mk" cx="1913.06" cy="880.4" r="7.25"/>
<circle class="mk" cx="1921.5" cy="912.72" r="7.25"/>
<circle class="mk" cx="1929.95" cy="911.37" r="7.25"/>
<circle class="mk" cx="1938.39" cy="888.48" r="7.25"/>
<circle class="mk" cx="1946.83" cy="895.21" r="7.25"/>
<circle class="mk" cx="1955.28" cy="895.21" r="7.25"/>
<polyline class="ft" points="1524.62,877.06 1528.93,877.37 1533.24,877.67 1537.54,877.97 1541.85,878.27 1546.15,878.57 1550.46,878.87 1554.77,879.17 1559.07,879.47 1563.38,879.77 1567.69,880.07 1571.99,880.37 1576.3,880.66 1580.61,880.96 1584.91,881.26 1589.22,881.55 1593.53,881.85 1597.83,882.14 1602.14,882.44 1606.45,882.73 1610.75,883.02 1615.06,883.32 1619.37,883.61 1623.67,883.9 1627.98,884.19 1632.29,884.48 1636.59,884.77 1640.9,885.06 1645.21,885.35 1649.51,885.64 1653.82,885.93 1658.13,886.22 1662.43,886.5 1666.74,886.79 1671.05,887.08 1675.35,887.36 1679.66,887.65 1683.96,887.93 1688.27,888.22 1692.58,888.5 1696.88,888.78 1701.19,889.07 1705.5,889.35 1709.8,889.63 1714.11,889.91 1718.42,890.19 1722.72,890.47 1727.03,890.75 1731.34,891.03 1735.64,891.31 1739.95,891.59 1744.26,891.87 1748.56,892.15 1752.87,892.42 1757.18,892.7 1761.48,892.98 1765.79,893.25 1770.1,893.53 1774.4,893.8 1778.71,894.08 1783.02,894.35 1787.32,894.62 1791.63,894.9 1795.94,895.17 1800.24,895.44 1804.55,895.71 1808.85,895.98 1813.16,896.25 1817.47,896.52 1821.77,896.79 1826.08,897.06 1830.39,897.33 1834.69,897.6 1839,897.87 1843.31,898.13 1847.61,898.4 1851.92,898.67 1856.23,898.93 1860.53,899.2 1864.84,899.46 1869.15,899.73 1873.45,899.99 1877.76,900.26 1882.07,900.52 1886.37,900.78 1890.68,901.04 1894.99,901.31 1899.29,901.57 1903.6,901.83 1907.91,902.09 1912.21,902.35 1916.52,902.61 1920.83,902.87 1925.13,903.13 1929.44,903.39 1933.75,903.64 1938.05,903.9 1942.36,904.16 1946.66,904.41 1950.97,904.67 1955.28,904.93"/>
<rect class="ax" x="1476.2" y="650.7" width="527.2" height="402.7"/>
<path class="ax" d="M1520.75 1053.4v-5.8M1520.75 650.7v5.8M1608.53 1053.4v-5.8M1608.53 650.7v5.8M1696.31 1053.4v-5.8M1696.31 650.7v5.8M1784.09 1053.4v-5.8M1784.09 650.7v5.8M1871.87 1053.4v-5.8M1871.87 650.7v5.8M1959.65 1053.4v-5.8M1959.65 650.7v5.8M1476.2 986.33h5.8M2003.4 986.33h-5.8M1476.2 919.22h5.8M2003.4 919.22h-5.8M1476.2 852.1h5.8M2003.4 852.1h-5.8M1476.2 784.98h5.8M2003.4 784.98h-5.8M1476.2 717.87h5.8M2003.4 717.87h-5.8"/>
<text class="tk" text-anchor="middle" transform="translate(1520.45 1088.3) scale(0.95 1)">0</text>
<text class="tk" text-anchor="middle" transform="translate(1608.23 1088.3) scale(0.95 1)">0.2</text>
<text class="tk" text-anchor="middle" transform="translate(1696.01 1088.3) scale(0.95 1)">0.4</text>
<text class="tk" text-anchor="middle" transform="translate(1783.79 1088.3) scale(0.95 1)">0.6</text>
<text class="tk" text-anchor="middle" transform="translate(1871.57 1088.3) scale(0.95 1)">0.8</text>
<text class="tk" text-anchor="middle" transform="translate(1959.35 1088.3) scale(0.95 1)">1</text>
<text class="tk" text-anchor="end" transform="translate(1465.5 1063.8) scale(0.98 1)">0</text>
<text class="tk" text-anchor="end" transform="translate(1465.5 996.47) scale(0.98 1)">50</text>
<text class="tk" text-anchor="end" transform="translate(1465.5 929.15) scale(0.98 1)">100</text>
<text class="tk" text-anchor="end" transform="translate(1465.5 861.82) scale(0.98 1)">150</text>
<text class="tk" text-anchor="end" transform="translate(1465.5 794.5) scale(0.98 1)">200</text>
<text class="tk" text-anchor="end" transform="translate(1465.5 727.17) scale(0.98 1)">250</text>
<text class="tk" text-anchor="end" transform="translate(1465.5 659.85) scale(0.98 1)">300</text>
<text class="tt" text-anchor="middle" transform="translate(1739.85 641.8) scale(0.98 1)">Senior</text>
<text class="xl" text-anchor="middle" transform="translate(1741.1 1123.9) scale(0.99 1)">Time of Birth (Tb)</text>
</g>
</svg></body></html>
